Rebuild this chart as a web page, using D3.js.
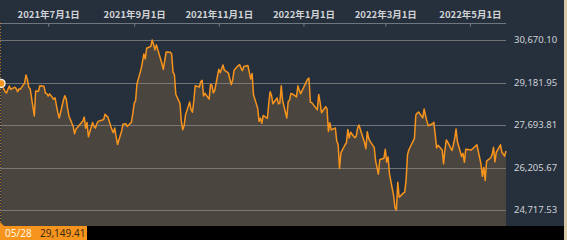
<!DOCTYPE html>
<html><head><meta charset="utf-8">
<script src="https://cdn.jsdelivr.net/npm/d3@7"></script>
<style>html,body{margin:0;padding:0;background:#262f3c;overflow:hidden}</style>
</head><body>
<svg id="c" width="567" height="240"></svg>
<script>
const dates = ["2021-05-28","2021-05-31","2021-06-01","2021-06-02","2021-06-03","2021-06-04","2021-06-07","2021-06-08","2021-06-09","2021-06-10","2021-06-11","2021-06-14","2021-06-15","2021-06-16","2021-06-17","2021-06-18","2021-06-21","2021-06-22","2021-06-23","2021-06-24","2021-06-25","2021-06-28","2021-06-29","2021-06-30",
"2021-07-01","2021-07-02","2021-07-05","2021-07-06","2021-07-07","2021-07-08","2021-07-09","2021-07-12","2021-07-13","2021-07-14","2021-07-15","2021-07-16","2021-07-19","2021-07-20","2021-07-21","2021-07-26","2021-07-27","2021-07-28","2021-07-29","2021-07-30",
"2021-08-02","2021-08-03","2021-08-04","2021-08-05","2021-08-06","2021-08-10","2021-08-11","2021-08-12","2021-08-13","2021-08-16","2021-08-17","2021-08-18","2021-08-19","2021-08-20","2021-08-23","2021-08-24","2021-08-25","2021-08-26","2021-08-27","2021-08-30","2021-08-31",
"2021-09-01","2021-09-02","2021-09-03","2021-09-06","2021-09-07","2021-09-08","2021-09-09","2021-09-10","2021-09-13","2021-09-14","2021-09-15","2021-09-16","2021-09-17","2021-09-21","2021-09-22","2021-09-24","2021-09-27","2021-09-28","2021-09-29","2021-09-30",
"2021-10-01","2021-10-04","2021-10-05","2021-10-06","2021-10-07","2021-10-08","2021-10-11","2021-10-12","2021-10-13","2021-10-14","2021-10-15","2021-10-18","2021-10-19","2021-10-20","2021-10-21","2021-10-22","2021-10-25","2021-10-26","2021-10-27","2021-10-28","2021-10-29",
"2021-11-01","2021-11-02","2021-11-04","2021-11-05","2021-11-08","2021-11-09","2021-11-10","2021-11-11","2021-11-12","2021-11-15","2021-11-16","2021-11-17","2021-11-18","2021-11-19","2021-11-22","2021-11-24","2021-11-25","2021-11-26","2021-11-29","2021-11-30",
"2021-12-01","2021-12-02","2021-12-03","2021-12-06","2021-12-07","2021-12-08","2021-12-09","2021-12-10","2021-12-13","2021-12-14","2021-12-15","2021-12-16","2021-12-17","2021-12-20","2021-12-21","2021-12-22","2021-12-23","2021-12-24","2021-12-27","2021-12-28","2021-12-29","2021-12-30",
"2022-01-04","2022-01-05","2022-01-06","2022-01-07","2022-01-11","2022-01-12","2022-01-13","2022-01-14","2022-01-17","2022-01-18","2022-01-19","2022-01-20","2022-01-21","2022-01-24","2022-01-25","2022-01-26","2022-01-27","2022-01-28","2022-01-31",
"2022-02-01","2022-02-02","2022-02-03","2022-02-04","2022-02-07","2022-02-08","2022-02-09","2022-02-10","2022-02-14","2022-02-15","2022-02-16","2022-02-17","2022-02-18","2022-02-21","2022-02-22","2022-02-24","2022-02-25","2022-02-28",
"2022-03-01","2022-03-02","2022-03-03","2022-03-04","2022-03-07","2022-03-08","2022-03-09","2022-03-10","2022-03-11","2022-03-14","2022-03-15","2022-03-16","2022-03-17","2022-03-18","2022-03-22","2022-03-23","2022-03-24","2022-03-25","2022-03-28","2022-03-29","2022-03-30","2022-03-31",
"2022-04-01","2022-04-04","2022-04-05","2022-04-06","2022-04-07","2022-04-08","2022-04-11","2022-04-12","2022-04-13","2022-04-14","2022-04-15","2022-04-18","2022-04-19","2022-04-20","2022-04-21","2022-04-22","2022-04-25","2022-04-26","2022-04-27","2022-04-28",
"2022-05-02","2022-05-06","2022-05-09","2022-05-10","2022-05-11","2022-05-12","2022-05-13","2022-05-16","2022-05-17","2022-05-18","2022-05-19","2022-05-20","2022-05-23","2022-05-24","2022-05-25","2022-05-26","2022-05-27"];
const closes = [29149.41,28860.08,28814.34,28946.14,29058.11,28941.52,29019.24,28963.56,28860.80,28958.56,28948.73,29161.80,29441.30,29291.01,29018.33,28964.08,28010.93,28884.13,28874.89,28875.23,29066.18,29048.02,28812.63,28791.53,
28707.04,28783.28,28598.19,28643.21,28366.95,28118.03,27940.42,28569.02,28718.24,28608.49,28279.09,28003.08,27652.74,27388.16,27548.00,27833.29,27970.22,27581.66,27782.42,27283.59,
27781.02,27641.83,27584.08,27728.12,27820.04,27888.15,28070.51,28015.02,27977.15,27523.19,27424.47,27585.91,27281.17,27013.25,27494.24,27732.10,27724.80,27742.29,27641.14,27789.29,28089.54,
28451.02,28543.51,29128.11,29659.89,29916.14,30181.21,30008.19,30381.84,30447.37,30670.10,30511.71,30323.34,30500.05,29839.71,29639.40,30248.81,30240.06,30183.96,29544.29,29452.66,
28771.07,28444.89,27822.12,27528.87,27678.21,28048.94,28498.20,28230.61,28140.28,28550.93,29068.63,29025.46,29215.52,29255.55,28708.58,28804.85,28600.41,29106.01,29098.24,28820.09,28892.69,
29647.08,29520.90,29794.37,29611.57,29507.05,29285.46,29106.78,29277.86,29609.97,29776.80,29808.12,29688.33,29598.66,29745.87,29774.11,29302.66,29499.28,28751.62,28283.92,27821.76,
27935.62,27753.37,28029.57,27927.37,28455.60,28860.62,28725.47,28437.77,28640.49,28432.64,28459.72,29066.32,28545.68,27937.81,28517.59,28562.21,28798.37,28782.59,28676.46,29069.16,28906.88,28791.71,
29301.79,29332.16,28487.87,28478.56,28222.48,28765.66,28489.13,28124.28,28333.52,28257.25,27467.23,27772.93,27522.26,27588.37,27131.34,27011.33,26170.30,26717.34,27001.98,
27078.48,27533.60,27241.31,27439.99,27248.87,27284.52,27579.87,27696.08,27079.59,26865.19,27460.40,27232.87,27122.07,26910.87,26449.61,25970.82,26476.50,26526.82,
26844.72,26393.03,26577.27,25985.47,25221.41,24790.95,24717.53,25690.40,25162.78,25307.85,25346.48,25762.01,26652.89,26827.43,27224.11,28040.16,28110.39,28149.84,27943.89,28252.42,28027.25,27821.43,
27665.98,27736.47,27787.98,27350.30,26888.57,26985.80,26821.52,26334.98,26843.49,27172.00,27093.19,26799.71,26985.09,27217.85,27553.06,27105.26,26590.78,26700.11,26386.63,26847.90,
26818.53,27003.56,26319.34,25895.76,26213.64,25748.72,26427.65,26547.05,26659.75,26911.20,26402.84,26739.03,27001.52,26748.14,26677.80,26604.84,26781.68];
const xTickDates = ["2021-07-01","2021-09-01","2021-11-01","2022-01-01","2022-03-01","2022-05-01"];
const xTickLabels = ["2021年7月1日","2021年9月1日","2021年11月1日","2022年1月1日","2022年3月1日","2022年5月1日"];
const yTicks = [30670.10, 29181.95, 27693.81, 26205.67, 24717.53];
const yTickLabels = ["30,670.10","29,181.95","27,693.81","26,205.67","24,717.53"];
const hoverDate = "05/28";
const hoverValue = "29,149.41";

const parse = d3.timeParse("%Y-%m-%d");
const data = dates.map((d,i)=>({date:parse(d), v:closes[i]}));

const W = 567, H = 240;
const plotLeft = 1, plotRight = 506, axisY = 23, plotBottom = 226;
const svg = d3.select("#c");

svg.append("rect").attr("width",W).attr("height",H).attr("fill","#262f3c");

const x = d3.scaleTime().domain([data[0].date, data[data.length-1].date]).range([plotLeft, plotRight]);
const y = d3.scaleLinear().domain([yTicks[4], yTicks[0]]).range([210, 40]);

// area fill
svg.append("path").datum(data)
  .attr("d", d3.area().x(d=>x(d.date)).y0(plotBottom).y1(d=>y(d.v)))
  .attr("fill","#4b453f");

// gridlines
svg.append("g").selectAll("line").data(yTicks).join("line")
  .attr("x1",0).attr("x2",plotRight)
  .attr("y1",d=>Math.round(y(d))+0.5).attr("y2",d=>Math.round(y(d))+0.5)
  .attr("stroke","#8a8a8a").attr("stroke-opacity",0.75).attr("stroke-width",1);

// y labels
svg.append("g").selectAll("text").data(yTicks).join("text")
  .attr("x",514).attr("y",d=>y(d)).attr("dy","0.35em")
  .attr("font-family","'Noto Sans', sans-serif").attr("font-size","9.5px")
  .attr("fill","#cfd3d8")
  .text((d,i)=>yTickLabels[i]);

// top axis
const xAxis = d3.axisTop(x)
  .tickValues(xTickDates.map(parse))
  .tickFormat((d,i)=>xTickLabels[i])
  .tickSizeInner(-3).tickSizeOuter(0).tickPadding(6);
const ax = svg.append("g").attr("transform",`translate(0,${axisY+0.5})`).call(xAxis);
ax.select(".domain").remove();
ax.selectAll(".tick line").attr("stroke","#77808a");
ax.selectAll(".tick text").attr("fill","#d0d3d6")
  .attr("font-family","'Noto Sans CJK JP', sans-serif").attr("font-size","9.5px").attr("font-weight","bold");
svg.append("line").attr("x1",0).attr("x2",plotRight).attr("y1",axisY+0.5).attr("y2",axisY+0.5)
  .attr("stroke","#6e7780").attr("stroke-width",1);

// crosshair
svg.append("line").attr("x1",0.5).attr("x2",0.5).attr("y1",axisY).attr("y2",plotBottom)
  .attr("stroke","#f7941d").attr("stroke-opacity",0.7).attr("stroke-dasharray","1,2");

// line
svg.append("path").datum(data)
  .attr("d", d3.line().x(d=>x(d.date)).y(d=>y(d.v)))
  .attr("fill","none").attr("stroke","#f7941d").attr("stroke-width",1.5).attr("stroke-linejoin","round");

// hover point
svg.append("circle").attr("cx",x(data[0].date)).attr("cy",y(data[0].v)).attr("r",4)
  .attr("fill","#f7941d").attr("stroke","#f2eee8").attr("stroke-width",1.5);

// bottom strip
svg.append("rect").attr("x",0).attr("y",plotBottom).attr("width",564).attr("height",H-plotBottom).attr("fill","#000");
svg.append("rect").attr("x",564).attr("y",0).attr("width",3).attr("height",H).attr("fill","#d8c9a9");

// hover label
svg.append("path").attr("d",`M0,${plotBottom-4} L4,${plotBottom} L0,${plotBottom} Z`).attr("fill","#f7941d");
svg.append("rect").attr("x",0).attr("y",plotBottom).attr("width",87).attr("height",H-plotBottom).attr("fill","#f7941d");
svg.append("text").attr("x",5).attr("y",237).attr("font-family","'Noto Sans', sans-serif").attr("font-size","10px")
  .attr("fill","#fff4e0").text(hoverDate);
svg.append("text").attr("x",40).attr("y",237).attr("font-family","'Noto Sans', sans-serif").attr("font-size","10px")
  .attr("fill","#3a2a14").text(hoverValue);
</script>
</body></html>
